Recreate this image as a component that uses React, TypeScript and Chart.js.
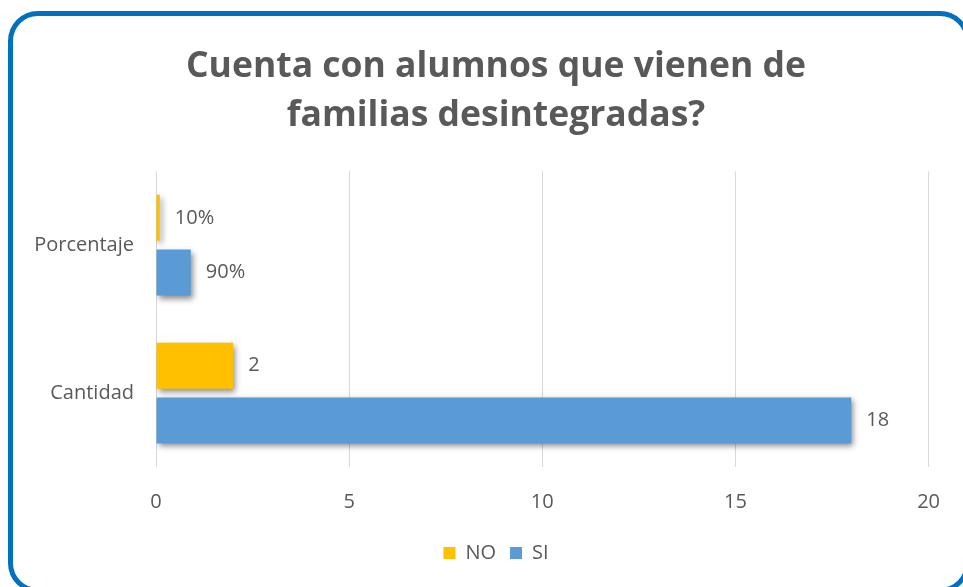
import React, { useEffect, useRef } from "react";
import { Chart, registerables } from "chart.js";

Chart.register(...registerables);

const categories = ["Porcentaje", "Cantidad"];
const seriesNames = ["NO", "SI"];
const valuesNO = [0.1, 2];
const valuesSI = [0.9, 18];
const labelsNO = ["10%", "2"];
const labelsSI = ["90%", "18"];
const xTicks = [0, 5, 10, 15, 20];
const titleLines = ["Cuenta con alumnos que vienen de", "familias desintegradas?"];

const FONT = "'Open Sans', Lato, sans-serif";
const GRAY = "#595959";
const FS = 20;

export default function App() {
  const ref = useRef<HTMLCanvasElement | null>(null);

  useEffect(() => {
    if (!ref.current) return;
    const shadowPlugin = {
      id: "barShadow",
      beforeDatasetsDraw(chart: any) {
        const ctx = chart.ctx;
        ctx.save();
        ctx.shadowColor = "rgba(0,0,0,0.45)";
        ctx.shadowBlur = 6;
        ctx.shadowOffsetX = 2;
        ctx.shadowOffsetY = 3;
      },
      afterDatasetsDraw(chart: any) {
        chart.ctx.restore();
      },
    };
    const labelPlugin = {
      id: "valueLabels",
      afterDatasetsDraw(chart: any) {
        const ctx = chart.ctx;
        ctx.save();
        ctx.font = `${FS}px ${FONT}`;
        ctx.fillStyle = GRAY;
        ctx.textAlign = "left";
        ctx.textBaseline = "middle";
        const sets = [labelsNO, labelsSI];
        chart.data.datasets.forEach((_: any, di: number) => {
          const meta = chart.getDatasetMeta(di);
          meta.data.forEach((bar: any, i: number) => {
            ctx.fillText(sets[di][i], bar.x + 15, bar.y);
          });
        });
        ctx.restore();
      },
    };
    const chart = new Chart(ref.current, {
      type: "bar",
      data: {
        labels: categories,
        datasets: [
          {
            label: seriesNames[0],
            data: valuesNO,
            backgroundColor: (c: any) => {
              const ch = c.chart;
              const el = c.element;
              if (!el || !ch.chartArea || c.type !== "data") return "#FFC000";
              const { y, height } = el.getProps(["y", "height"], true);
              if (!isFinite(y) || !isFinite(height)) return "#FFC000";
              const g = ch.ctx.createLinearGradient(0, y - height / 2, 0, y + height / 2);
              g.addColorStop(0, "#FFC52A");
              g.addColorStop(0.5, "#FFC000");
              g.addColorStop(1, "#E8AE00");
              return g;
            },
            borderWidth: 0,
          },
          {
            label: seriesNames[1],
            data: valuesSI,
            backgroundColor: "#5B9BD5",
            borderWidth: 0,
          },
        ],
      },
      options: {
        indexAxis: "y",
        animation: false,
        responsive: false,
        maintainAspectRatio: false,
        layout: { padding: { left: 55, right: 26, top: 43, bottom: 14 } },
        datasets: { bar: { categoryPercentage: 0.74, barPercentage: 0.84 } },
        scales: {
          x: {
            min: 0,
            max: 20,
            afterBuildTicks: (s: any) => {
              s.ticks = xTicks.map((v) => ({ value: v }));
            },
            afterFit: (s: any) => {
              s.height = 62;
            },
            grid: { color: "#D9D9D9", lineWidth: 1, drawTicks: false },
            border: { display: false },
            ticks: { color: GRAY, font: { family: FONT, size: FS }, padding: 23 },
          },
          y: {
            afterFit: (s: any) => {
              s.width = 101;
              s._computeLabelArea = () => null;
            },
            grid: { display: false },
            border: { display: false },
            ticks: { color: GRAY, font: { family: FONT, size: FS }, padding: 14 },
          },
        },
        plugins: {
          title: {
            display: true,
            text: titleLines,
            color: GRAY,
            font: { family: FONT, size: 35.5, weight: "bold", lineHeight: 1.37 },
            padding: { top: 0, bottom: 31 },
          },
          legend: {
            position: "bottom",
            labels: {
              color: GRAY,
              font: { family: FONT, size: FS },
              boxWidth: 12,
              boxHeight: 12,
              padding: 14,
              useBorderRadius: false,
              generateLabels: (ch: any) =>
                ch.data.datasets.map((d: any, i: number) => ({
                  text: d.label,
                  fillStyle: i === 0 ? "#FFC000" : "#5B9BD5",
                  strokeStyle: "rgba(0,0,0,0)",
                  lineWidth: 0,
                  datasetIndex: i,
                  fontColor: GRAY,
                })),
            },
          },
          tooltip: { enabled: false },
        },
      },
      plugins: [shadowPlugin, labelPlugin],
    } as any);
    return () => chart.destroy();
  }, []);

  return (
    <div
      style={{
        position: "fixed",
        left: 0,
        top: 0,
        width: 963,
        height: 587,
        overflow: "hidden",
        background: "#fff",
      }}
    >
      <canvas ref={ref} width={963} height={587} style={{ position: "absolute", left: 0, top: 0 }} />
      <div
        style={{
          position: "absolute",
          left: 8,
          top: 11,
          width: 962,
          height: 582,
          border: "5px solid #0070C0",
          borderRadius: 30,
          boxSizing: "border-box",
          pointerEvents: "none",
        }}
      />
    </div>
  );
}
